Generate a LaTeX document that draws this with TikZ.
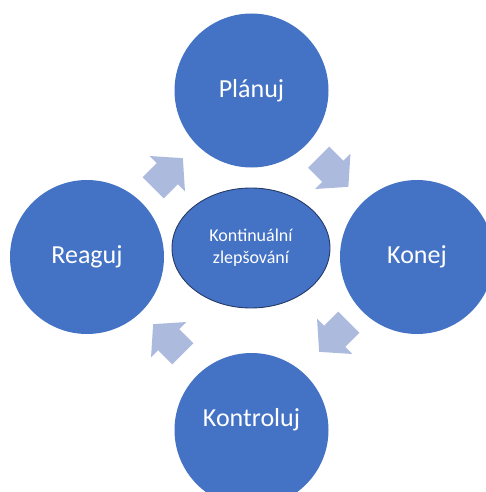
\documentclass[tikz,border=0pt]{standalone}
\usepackage{fontspec}
\setmainfont{Carlito}
\definecolor{cblue}{HTML}{4472C4}
\definecolor{carrow}{HTML}{ACBADE}
\definecolor{cedge}{HTML}{253A66}
\tikzset{
  circ/.style={circle, fill=cblue, minimum size=154pt, inner sep=0pt, text=white, font=\fontsize{26}{30}\selectfont},
  lbl/.style={text=white, font=\fontsize{26}{30}\selectfont, inner sep=0pt},
  ell/.style={ellipse, fill=cblue, draw=cedge, line width=0.9pt, minimum width=158pt, minimum height=120pt, inner sep=0pt, text=white, align=center, font=\fontsize{18}{22}\selectfont},
  blockarrow/.style={fill=carrow, draw=none}
}
\usetikzlibrary{shapes.geometric}
\begin{document}
\begin{tikzpicture}[x=1pt, y=-1pt]
\useasboundingbox (0,0) rectangle (486,492);
\clip (0,0) rectangle (486,492);
\fill[white] (0,0) rectangle (486,492);
\node[circ] (plan) at (251.5,90.5) {Plánuj};
\node[circ] (reag) at (87,257) {Reaguj};
\node[circ] (konej) at (417,257) {Konej};
\node[circ] (kontr) at (251.5,430) {};
\node[lbl] (kontrtxt) at (251.5,420) {Kontroluj};
\node[ell] (mid) at (251,248) {Kontinuální\\zlepšování};
\foreach \cx/\cy/\ang in {168/173/45, 333.5/172/-45, 334/337/-135, 168/339/135}{
  \begin{scope}[shift={(\cx,\cy)}, rotate=\ang]
    \fill[blockarrow] (-21,-15) -- (-1,-15) -- (-1,-25) -- (21,0) -- (-1,25) -- (-1,15) -- (-21,15) -- cycle;
  \end{scope}
}
\end{tikzpicture}
\end{document}
